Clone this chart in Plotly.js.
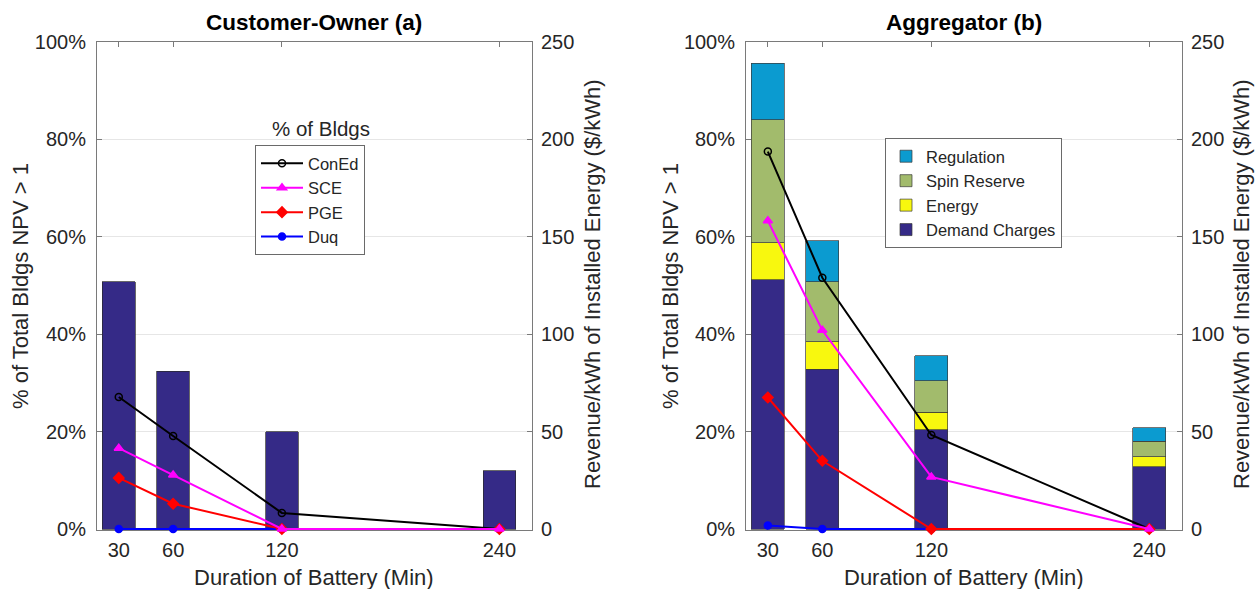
<!DOCTYPE html>
<html><head><meta charset="utf-8">
<script src="https://cdn.plot.ly/plotly-3.0.1.min.js"></script>
<style>html,body{margin:0;padding:0;background:#fff}</style>
</head><body><div id="chart" style="width:1260px;height:589px"></div>
<script>
// ---- data ----
const durations = [30, 60, 120, 240];
const durationLabels = ['30', '60', '120', '240'];

// Revenue per kWh of installed energy ($/kWh) — bars, right axis
const ownerDemand = [127, 81, 50, 30];
const aggDemand = [128, 82, 51, 32];
const aggEnergy = [19, 14, 9, 5];
const aggSpin = [63, 31, 16, 8];
const aggRegulation = [29, 21, 13, 7];

// % of buildings with NPV > 1 — lines, left axis
const ownerConEd = [0.271, 0.191, 0.033, 0];
const ownerSCE = [0.166, 0.111, 0, 0];
const ownerPGE = [0.105, 0.052, 0, 0];
const ownerDuq = [0, 0, 0, 0];
const aggConEd = [0.775, 0.516, 0.193, 0];
const aggSCE = [0.633, 0.408, 0.107, 0];
const aggPGE = [0.270, 0.140, 0, 0];
const aggDuq = [0.007, 0, 0, 0];

const utilities = ['ConEd', 'SCE', 'PGE', 'Duq'];
const barNames = ['Demand Charges', 'Energy', 'Spin Reserve', 'Regulation'];

// ---- styles ----
const FONT = 'Liberation Sans, Arial, Helvetica, sans-serif';
const TXT = '#262626';
const AX = '#7a7a7a';
const GRID = '#e6e6e6';
const lineStyle = {
  ConEd: {color: '#000000', symbol: 'circle-open', size: 7},
  SCE: {color: '#ff00ff', symbol: 'triangle-up', size: 8},
  PGE: {color: '#ff0000', symbol: 'diamond', size: 8},
  Duq: {color: '#0000ff', symbol: 'circle', size: 7}
};
const rank = {ConEd: 1, SCE: 2, PGE: 3, Duq: 4};
const barColors = ['#352a87', '#f8f80e', '#a2bb6c', '#0b9bd0'];

function lineTrace(name, y, xa, ya, showlegend) {
  const s = lineStyle[name];
  return {
    type: 'scatter', mode: 'lines+markers', name: name,
    x: durations, y: y, xaxis: xa, yaxis: ya,
    line: {color: s.color, width: 2},
    marker: {color: s.color, symbol: s.symbol, size: s.size, line: {color: s.color, width: 1.5}},
    cliponaxis: false, showlegend: showlegend, legend: 'legend', legendrank: rank[name]
  };
}

const traces = [];
// panel (a) bars
traces.push({
  type: 'bar', name: 'Demand Charges', x: durations, y: ownerDemand, width: 18,
  xaxis: 'x', yaxis: 'y', marker: {color: barColors[0], line: {color: '#2a2a2a', width: 0.7}},
  showlegend: false
});
// panel (b) stacked bars
const aggSeries = [aggDemand, aggEnergy, aggSpin, aggRegulation];
aggSeries.forEach((vals, i) => {
  traces.push({
    type: 'bar', name: barNames[i], x: durations, y: vals, width: 18,
    xaxis: 'x2', yaxis: 'y3', marker: {color: barColors[i], line: {color: '#3a3a3a', width: 0.7}},
    legend: 'legend2', showlegend: true
  });
});
// lines: draw order ConEd, Duq, PGE, SCE
const ownerLines = {ConEd: ownerConEd, SCE: ownerSCE, PGE: ownerPGE, Duq: ownerDuq};
const aggLines = {ConEd: aggConEd, SCE: aggSCE, PGE: aggPGE, Duq: aggDuq};
['ConEd', 'Duq', 'PGE', 'SCE'].forEach(n => traces.push(lineTrace(n, ownerLines[n], 'x', 'y2', true)));
['ConEd', 'Duq', 'PGE', 'SCE'].forEach(n => traces.push(lineTrace(n, aggLines[n], 'x2', 'y4', false)));

// tiny offset below zero so the zero-valued lines are not clipped by the plot edge
const PAD = 0.002;
const tickfont = {family: FONT, size: 20, color: TXT};
function xAxis(domain, anchor) {
  return {
    domain: domain, anchor: anchor, range: [18, 258], tickmode: 'array',
    tickvals: durations, ticktext: durationLabels, ticks: 'inside', ticklen: 5, tickcolor: AX,
    showline: true, linecolor: AX, linewidth: 1, mirror: 'ticks', showgrid: false, zeroline: false,
    tickfont: tickfont, ticklabelstandoff: 2, layer: 'below traces'
  };
}
function barAxis(anchor) {
  return {
    domain: [0.1002, 0.9287], anchor: anchor, side: 'right', range: [-250 * PAD, 250], tickvals: [0, 50, 100, 150, 200, 250],
    ticks: 'inside', ticklen: 5, tickcolor: AX, showline: true, linecolor: AX, linewidth: 1,
    showgrid: true, gridcolor: GRID, zeroline: false, tickfont: tickfont, ticklabelstandoff: 4,
    layer: 'below traces'
  };
}
function pctAxis(anchor, over) {
  return {
    overlaying: over, anchor: anchor, side: 'left', range: [-PAD, 1], tickvals: [0, 0.2, 0.4, 0.6, 0.8, 1], tickformat: '.0%',
    ticks: 'inside', ticklen: 5, tickcolor: AX, showline: true, linecolor: AX, linewidth: 1,
    showgrid: false, zeroline: false, tickfont: tickfont, ticklabelstandoff: 6,
    layer: 'below traces'
  };
}

const titleFont = {family: FONT, size: 22.5, color: '#000'};
const axTitleFont = {family: FONT, size: 22, color: TXT};
const annotations = [
  {text: '<b>Customer-Owner (a)</b>', x: 314, y: 22},
  {text: '<b>Aggregator (b)</b>', x: 964, y: 22},
  {text: 'Duration of Battery (Min)', x: 314, y: 577, f: axTitleFont},
  {text: 'Duration of Battery (Min)', x: 964, y: 577, f: axTitleFont},
  {text: '% of Total Bldgs NPV > 1', x: 21, y: 286, rot: -90, f: axTitleFont},
  {text: '% of Total Bldgs NPV > 1', x: 671, y: 286, rot: -90, f: axTitleFont},
  {text: 'Revenue/kWh of Installed Energy ($/kWh)', x: 592, y: 284, rot: -90, f: axTitleFont},
  {text: 'Revenue/kWh of Installed Energy ($/kWh)', x: 1241, y: 284, rot: -90, f: axTitleFont},
  {text: '% of Bldgs', x: 321, y: 128, f: {family: FONT, size: 20.5, color: TXT}}
].map(a => ({
  text: a.text, xref: 'paper', yref: 'paper', x: a.x / 1260, y: 1 - a.y / 589,
  xanchor: 'center', yanchor: 'middle', showarrow: false, textangle: a.rot || 0,
  font: a.f || titleFont
}));

const legendBase = {
  xref: 'paper', yref: 'paper', xanchor: 'left', yanchor: 'top',
  bgcolor: '#ffffff', bordercolor: '#6a6a6a', borderwidth: 1,
  font: {family: FONT, size: 16.5, color: TXT}
};

const layout = {
  width: 1260, height: 589, margin: {l: 0, r: 0, t: 0, b: 0},
  paper_bgcolor: '#ffffff', plot_bgcolor: '#ffffff',
  barmode: 'stack', bargap: 0,
  font: {family: FONT, color: TXT},
  xaxis: xAxis([0.0770, 0.4222], 'y'),
  yaxis: barAxis('x'),
  yaxis2: pctAxis('x', 'y'),
  xaxis2: xAxis([0.5921, 0.9381], 'y3'),
  yaxis3: barAxis('x2'),
  yaxis4: pctAxis('x2', 'y3'),
  legend: Object.assign({}, legendBase, {x: 255 / 1260, y: 1 - 145 / 589, traceorder: 'normal', itemwidth: 42}),
  legend2: Object.assign({}, legendBase, {x: 885 / 1260, y: 1 - 138 / 589, traceorder: 'reversed', itemwidth: 30}),
  annotations: annotations
};

Plotly.newPlot('chart', traces, layout, {displayModeBar: false, staticPlot: true});
</script>
</body></html>
